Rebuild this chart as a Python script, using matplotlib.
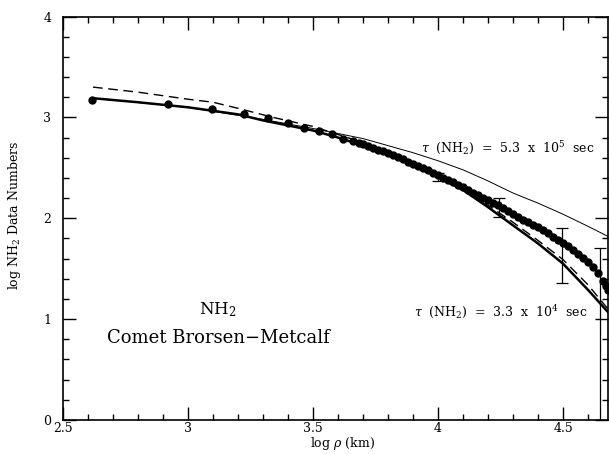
import matplotlib
matplotlib.use("Agg")
import matplotlib.pyplot as plt
from matplotlib.ticker import MultipleLocator

# ==================================
# DATA
# ==================================

# observed NH2 profile (dots)
obs_logrho = [2.617, 2.92, 3.096, 3.223, 3.319, 3.399, 3.465, 3.524, 3.575, 3.62,
              3.66, 3.684, 3.70, 3.72, 3.74, 3.76, 3.78, 3.80, 3.82, 3.84, 3.86,
              3.88, 3.90, 3.92, 3.94, 3.96, 3.98, 4.00, 4.02, 4.04, 4.06, 4.08,
              4.10, 4.12, 4.14, 4.16, 4.18, 4.20, 4.22, 4.24, 4.26, 4.28, 4.30,
              4.32, 4.34, 4.36, 4.38, 4.40, 4.42, 4.44, 4.46, 4.48, 4.50, 4.52,
              4.54, 4.56, 4.58, 4.60, 4.62, 4.64, 4.66, 4.67, 4.68]
obs_logN = [3.168, 3.136, 3.087, 3.034, 2.994, 2.941, 2.895, 2.868, 2.832, 2.789,
            2.765, 2.75, 2.74, 2.72, 2.70, 2.68, 2.665, 2.65, 2.63, 2.61, 2.585,
            2.56, 2.54, 2.52, 2.50, 2.475, 2.45, 2.43, 2.40, 2.38, 2.355, 2.33,
            2.305, 2.28, 2.255, 2.23, 2.205, 2.18, 2.155, 2.13, 2.10, 2.075, 2.045,
            2.015, 1.985, 1.96, 1.935, 1.91, 1.88, 1.85, 1.815, 1.785, 1.755, 1.72,
            1.69, 1.65, 1.61, 1.57, 1.52, 1.46, 1.38, 1.33, 1.29]

# error bars (bottom / top in log units)
err_logrho = [4.0, 4.244, 4.495, 4.648]
err_low = [2.37, 2.01, 1.36, -0.5]
err_high = [2.45, 2.20, 1.906, 1.71]

# model, tau = 3.3e4 s (thick solid)
mod1_logrho = [2.62, 2.8, 3.0, 3.2, 3.3, 3.4, 3.5, 3.6, 3.7, 3.8, 3.9, 4.0,
               4.1, 4.2, 4.3, 4.4, 4.5, 4.6, 4.68]
mod1_logN = [3.19, 3.15, 3.10, 3.03, 2.97, 2.92, 2.87, 2.80, 2.72, 2.63, 2.53,
             2.41, 2.28, 2.11, 1.93, 1.75, 1.55, 1.29, 1.07]

# model, tau = 3.3e4 s (dashed)
mod2_logrho = [2.62, 2.8, 3.0, 3.1, 3.2, 3.34, 3.5, 3.6, 3.7, 3.8, 3.9, 4.0,
               4.1, 4.2, 4.3, 4.4, 4.5, 4.6, 4.68]
mod2_logN = [3.30, 3.25, 3.18, 3.15, 3.09, 3.00, 2.91, 2.83, 2.75, 2.64, 2.54,
             2.42, 2.29, 2.13, 1.96, 1.78, 1.59, 1.34, 1.10]

# model, tau = 5.3e5 s (thin solid)
mod3_logrho = [2.62, 3.0, 3.3, 3.5, 3.6, 3.7, 3.8, 3.9, 4.0, 4.1, 4.2, 4.3,
               4.4, 4.5, 4.6, 4.68]
mod3_logN = [3.19, 3.10, 2.98, 2.89, 2.84, 2.79, 2.72, 2.65, 2.57, 2.48, 2.37,
             2.25, 2.15, 2.04, 1.92, 1.82]

# ==================================
# FIGURE
# ==================================

plt.rcParams['font.family'] = ['DejaVu Serif']
plt.rcParams['mathtext.fontset'] = 'dejavuserif'

fig = plt.figure(figsize=(6.09, 4.54), dpi=100)
ax = fig.add_axes([63 / 609, 34 / 454, 545 / 609, 403.5 / 454])

ax.plot(mod1_logrho, mod1_logN, color='black', lw=1.8)
ax.plot(mod2_logrho, mod2_logN, color='black', lw=1.0, dashes=(7, 4))
ax.plot(mod3_logrho, mod3_logN, color='black', lw=0.7)

ax.plot(obs_logrho, obs_logN, 'o', color='black', ms=5, mec='black')

mid = [(lo + hi) / 2 for lo, hi in zip(err_low, err_high)]
half = [(hi - lo) / 2 for lo, hi in zip(err_low, err_high)]
ax.errorbar(err_logrho, mid, yerr=half, fmt='none', ecolor='black',
            elinewidth=0.9, capsize=4, capthick=0.9)

# ==================================
# AXES
# ==================================

ax.set_xlim(2.5, 4.68)
ax.set_ylim(0, 4)

ax.xaxis.set_major_locator(MultipleLocator(0.5))
ax.xaxis.set_minor_locator(MultipleLocator(0.1))
ax.yaxis.set_major_locator(MultipleLocator(1))
ax.yaxis.set_minor_locator(MultipleLocator(0.2))
ax.set_xticks([2.5, 3, 3.5, 4, 4.5])
ax.set_xticklabels(['2.5', '3', '3.5', '4', '4.5'])

ax.tick_params(which='both', direction='in', top=True, right=True,
               width=1.0, labelsize=9)
ax.tick_params(which='major', length=9.5)
ax.tick_params(which='minor', length=4.5)
ax.tick_params(axis='x', which='major', pad=1.5)
ax.tick_params(axis='y', which='major', pad=8.5)

for s in ax.spines.values():
    s.set_linewidth(1.2)

# axis titles placed where the reference has them
fig.text(343 / 609, 1 - 443 / 454, r'log $\rho$ (km)', fontsize=9,
         ha='center', va='center')
fig.text(15 / 609, 1 - 215 / 454, r'log NH$_2$ Data Numbers', fontsize=9,
         ha='center', va='center', rotation=90)

# ==================================
# ANNOTATIONS
# ==================================

ax.text(4.28, 2.69, r'$\tau$  (NH$_2$)  =  5.3  x  10$^5$  sec',
        fontsize=9, ha='center', va='center')
ax.text(4.25, 1.07, r'$\tau$  (NH$_2$)  =  3.3  x  10$^4$  sec',
        fontsize=9, ha='center', va='center')
ax.text(3.12, 1.09, r'NH$_2$', fontsize=12, ha='center', va='center')
ax.text(3.12, 0.81, 'Comet Brorsen\u2212Metcalf', fontsize=13,
        ha='center', va='center')

fig.savefig('out.png', dpi=100)
